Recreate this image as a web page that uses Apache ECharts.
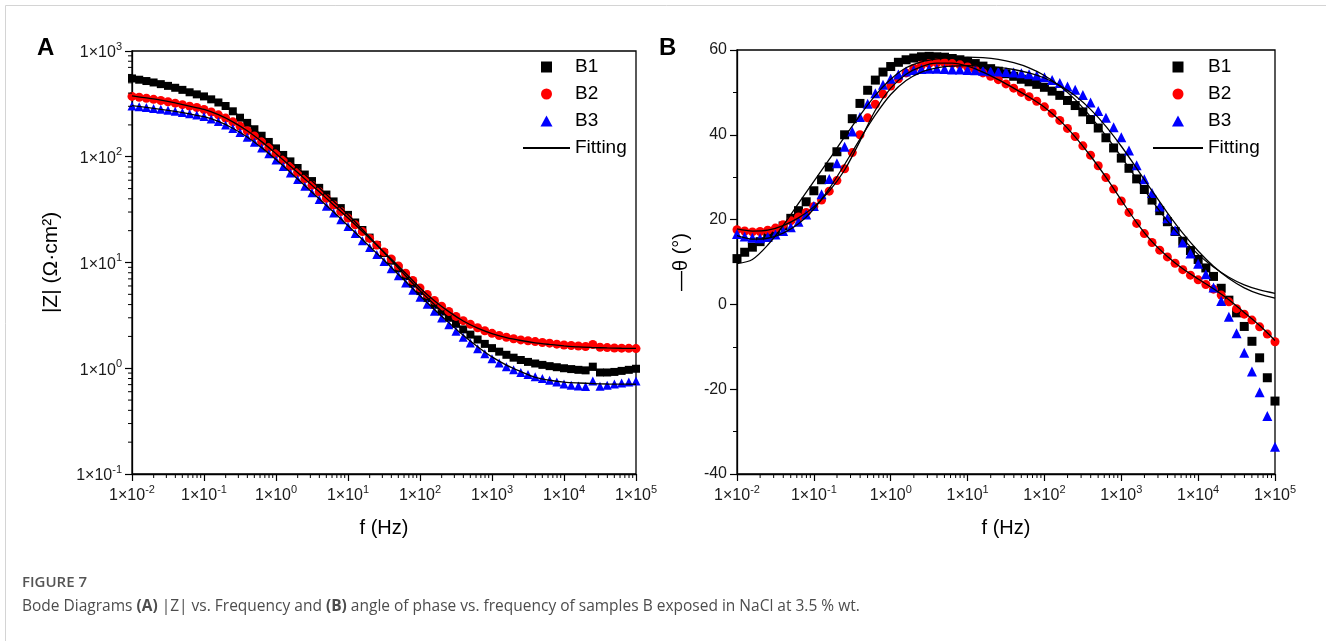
<!DOCTYPE html>
<html><head><meta charset="utf-8">
<script src="https://cdn.jsdelivr.net/npm/echarts@6/dist/echarts.min.js"></script>
<style>html,body{margin:0;padding:0;background:#fff}#c{width:1326px;height:641px}</style>
</head><body><div id="c"></div>
<script>
// ---------- data ----------
const freq = [
  0.01,0.01259,0.01585,0.01995,0.02512,0.03162,0.03981,0.05012,0.0631,0.07943,
  0.1,0.1259,0.1585,0.1995,0.2512,0.3162,0.3981,0.5012,0.631,0.7943,
  1,1.259,1.585,1.995,2.512,3.162,3.981,5.012,6.31,7.943,
  10,12.59,15.85,19.95,25.12,31.62,39.81,50.12,63.1,79.43,
  100,125.9,158.5,199.5,251.2,316.2,398.1,501.2,631,794.3,
  1000,1259,1585,1995,2512,3162,3981,5012,6310,7943,
  10000,12590,15850,19950,25120,31620,39810,50120,63100,79430,
  100000];
const fitFreq = [
  0.01,0.01585,0.02512,0.03981,0.0631,0.1,0.1585,0.2512,0.3981,0.631,
  1,1.585,2.512,3.981,6.31,10,15.85,25.12,39.81,63.1,
  100,158.5,251.2,398.1,631,1000,1585,2512,3981,6310,
  10000,15850,25120,39810,63100,100000];

// |Z| (ohm cm2)
const zB1 = [550,535,520,504,486,468,449,429,407,389, 372,349,326,302,269,234,209,182,158,138,
  120,104,90.4,78.3,67.9,58.9,50.8,43.9,37.8,32.7, 28.2,23.9,20.3,17.2,14.6,12.3,10.4,8.79,7.45,6.31,
  5.37,4.61,3.98,3.44,3.0,2.63,2.33,2.08,1.87,1.70, 1.55,1.435,1.34,1.259,1.197,1.148,1.109,1.076,1.047,1.023,
  1.0,0.982,0.966,0.955,1.035,0.912,0.912,0.923,0.944,0.966, 0.989];
const zB2 = [372,365,357,349,340,331,321,311,301,292, 280,265,249,232,214,195,176,157,139,122,
  107,93.3,81.3,70.8,61.7,53.7,46.6,40.4,35.0,30.3, 26.3,22.7,19.6,16.9,14.6,12.6,10.8,9.27,7.91,6.75,
  5.75,4.99,4.37,3.86,3.44,3.09,2.82,2.6,2.415,2.265, 2.138,2.042,1.963,1.90,1.854,1.82,1.786,1.754,1.726,1.69,
  1.66,1.641,1.622,1.607,1.679,1.578,1.567,1.556,1.549,1.542, 1.535];
const zB3 = [302,297,292,286,281,275,269,262,255,248, 240,228,215,200,185,170,153,137,121,107,
  93.3,80.9,70.1,60.8,52.7,45.7,39.4,34.0,29.4,25.4, 21.9,18.8,16.1,13.9,11.9,10.2,8.75,7.48,6.4,5.47,
  4.68,4.02,3.46,2.98,2.58,2.24,1.96,1.73,1.53,1.368, 1.23,1.122,1.035,0.966,0.912,0.871,0.832,0.8,0.771,0.741,
  0.708,0.692,0.679,0.671,0.759,0.676,0.692,0.708,0.724,0.741, 0.759];
const zFitB1 = [545,515,482,446,405,365,322,270,210,160,121,91,68,51,38,28.3,20.5,14.7,10.5,7.5,
  5.4,4.0,3.0,2.35,1.9,1.58,1.37,1.22,1.12,1.05,1.0,0.975,0.96,0.955,0.952,0.95];
const zFitB2 = [376,360,343,323,301,280,250,214,176,139,107,81.5,61.7,46.6,35.0,26.3,19.6,14.6,10.8,7.9,
  5.75,4.35,3.43,2.8,2.4,2.13,1.95,1.83,1.74,1.68,1.63,1.59,1.57,1.555,1.545,1.54];
const zFitB3 = [305,293,281,268,254,239,216,186,154,122,94,71,53.5,40,30,22.3,16.5,12.2,9.0,6.6,
  4.85,3.6,2.7,2.05,1.6,1.28,1.07,0.93,0.82,0.77,0.74,0.725,0.715,0.71,0.708,0.706];

// -theta (deg)
const thB1 = [10.8,12.3,13.5,14.8,16.0,17.2,18.5,20.3,22.1,24.2, 26.8,29.4,32.4,36.0,40.0,43.8,47.4,50.5,52.9,54.8,
  56.1,57.1,57.7,58.1,58.4,58.5,58.4,58.3,58.0,57.7, 57.3,56.8,56.2,55.6,55.0,54.4,53.8,53.1,52.5,51.9,
  51.2,50.3,49.3,48.1,46.9,45.4,43.6,41.6,39.3,36.9, 34.5,32.1,29.6,27.1,24.6,22.1,19.5,17.2,14.9,12.7,
  10.6,8.6,6.6,3.8,1.0,-2.0,-5.2,-8.7,-12.6,-17.3, -22.8];
const thB2 = [17.6,17.3,17.1,17.2,17.5,18.0,18.8,19.7,20.6,21.7, 23.1,24.6,26.7,29.2,32.0,35.8,40.0,44.0,47.2,49.6,
  51.5,53.2,54.6,55.7,56.4,56.8,57.0,57.0,56.8,56.5, 56.0,55.3,54.6,53.8,53.0,52.0,51.0,50.0,49.0,47.9,
  46.6,45.1,43.4,41.5,39.6,37.4,35.2,32.7,29.9,27.2, 24.4,21.7,19.1,16.7,14.6,12.8,11.2,9.7,8.2,6.9,
  5.8,4.7,3.6,2.2,0.6,-1.0,-2.3,-3.7,-5.3,-7.0, -8.8];
const thB3 = [16.6,16.0,15.7,15.6,15.9,16.5,17.3,18.2,19.5,21.2, 23.2,26.0,29.6,33.3,37.2,40.8,44.2,47.3,49.8,51.8,
  53.2,54.2,54.9,55.3,55.5,55.6,55.6,55.5,55.4,55.4, 55.3,55.2,55.1,55.0,54.9,54.8,54.7,54.5,54.3,54.0,
  53.6,52.9,52.2,51.4,50.6,49.4,47.6,45.6,44.0,41.8, 39.4,36.3,32.8,29.5,26.3,23.1,20.3,17.5,14.6,12.0,
  9.6,7.1,4.0,0.8,-2.9,-6.8,-11.4,-15.8,-20.7,-26.3, -33.6];
const thFitB1 = [9.6,10.6,14.0,18.6,23.8,29.0,34.2,39.5,44.6,49.3,53.1,55.8,57.2,57.9,58.2,58.3,58.2,57.8,57.0,55.8,
  54.0,51.5,48.3,44.3,39.8,34.8,29.6,24.5,19.7,15.5,11.8,8.8,6.4,4.6,3.4,2.6];
const thFitB2 = [17.8,17.3,17.5,18.6,20.4,23.0,26.7,31.7,38.5,45.8,51.0,54.3,56.1,56.9,56.9,56.2,54.8,53.0,51.0,48.9,
  46.5,43.4,39.5,35.0,30.0,24.6,19.3,14.8,11.3,8.4,6.0,3.7,1.1,-1.9,-5.0,-8.5];
const thFitB3 = [16.2,15.4,15.6,16.8,19.0,22.5,27.3,33.0,39.0,44.7,49.5,52.8,54.8,55.8,56.2,56.3,56.2,55.9,55.4,54.6,
  53.4,51.6,49.2,46.0,42.0,37.3,32.1,26.8,21.6,16.8,12.6,9.0,6.1,3.9,2.4,1.5];

const seriesNames = ['B1','B2','B3','Fitting'];
const minorMult = [2,3,4,5,6,7,8,9];
const xDecades = [0.01,0.1,1,10,100,1000,10000];
const yDecadesA = [0.1,1,10,100];

// ---------- helpers ----------
const pair = (xs, ys) => xs.map((x, i) => [x, ys[i]]);
const minorList = decs => { const out = []; decs.forEach(d => minorMult.forEach(m => out.push(+(m * d).toPrecision(3)))); return out; };
const FONT = '"Liberation Sans", Arial, sans-serif';
function sci(v) { const e = Math.round(Math.log10(v)); return '{m|1×10}{e|' + e + '}'; }
const sciRich = {
  m: { fontSize: 16, fontFamily: FONT, color: '#1a1a1a', lineHeight: 20, verticalAlign: 'bottom' },
  e: { fontSize: 11, fontFamily: FONT, color: '#1a1a1a', lineHeight: 12, verticalAlign: 'top' }
};
const axisLine = { show: true, onZero: false, lineStyle: { color: '#000', width: 1.3 } };
const axisTick = { show: true, inside: false, length: 7, lineStyle: { color: '#000', width: 1.2 } };

function minorTickSeries(xIndex, yIndex, list, dir, fixed) {
  return {
    type: 'custom', xAxisIndex: xIndex, yAxisIndex: yIndex, silent: true, clip: false, z: 5,
    data: list.map(v => dir === 'x' ? [v, fixed] : [fixed, v]),
    renderItem: function (params, api) {
      const p = api.coord([api.value(0), api.value(1)]);
      const shape = dir === 'x' ? { x1: p[0], y1: p[1], x2: p[0], y2: p[1] + 4 } : { x1: p[0] - 4, y1: p[1], x2: p[0], y2: p[1] };
      return { type: 'line', shape: shape, style: { stroke: '#000', lineWidth: 1 } };
    }
  };
}

const symA = { B1: 8, B2: 9, B3: 9 };
const symB = { B1: 9, B2: 9, B3: 10 };
function scatter(name, xi, yi, data, size) {
  const col = { B1: '#000000', B2: '#ff0000', B3: '#0000ff' }[name];
  const sym = { B1: 'rect', B2: 'circle', B3: 'triangle' }[name];
  return { type: 'scatter', name: name, xAxisIndex: xi, yAxisIndex: yi, data: data,
    symbol: sym, symbolSize: size, itemStyle: { color: col, opacity: 1 }, z: 2, animation: false };
}
function fit(xi, yi, data) {
  return { type: 'line', name: 'Fitting', xAxisIndex: xi, yAxisIndex: yi, data: data, smooth: 0.3,
    symbol: 'none', lineStyle: { color: '#000', width: 1.3 }, itemStyle: { color: '#000' }, z: 3, animation: false };
}

const legendIcons = {
  B1: 'path://M0,0H10V10H0Z',
  B2: 'path://M5,0A5,5,0,1,1,5,10A5,5,0,1,1,5,0Z',
  B3: 'path://M6,0L12,11L0,11Z',
  Fitting: 'path://M0,0H100V3.8H0Z'
};
function legend(left, w) {
  return {
    orient: 'vertical', left: left, top: 57, padding: 0, itemGap: 7, itemWidth: w, itemHeight: 11,
    symbolKeepAspect: true, selectedMode: false,
    data: seriesNames.map(n => ({ name: n, icon: legendIcons[n] })),
    textStyle: { fontSize: 19, fontFamily: FONT, color: '#000', lineHeight: 20 }
  };
}

const logX = (gi) => ({
  type: 'log', gridIndex: gi, logBase: 10, min: 0.01, max: 100000, interval: 1,
  axisLine: axisLine, axisTick: axisTick, splitLine: { show: false }, minorTick: { show: false },
  axisLabel: { formatter: sci, rich: sciRich, margin: 10, showMinLabel: true, showMaxLabel: true },
  name: 'f (Hz)', nameLocation: 'middle', nameGap: 44,
  nameTextStyle: { fontSize: 20, fontFamily: FONT, color: '#000' }
});

const option = {
  animation: false,
  backgroundColor: '#fff',
  grid: [
    { left: 132, top: 51, width: 504, height: 423, show: true, borderColor: '#000', borderWidth: 1.3, backgroundColor: 'transparent' },
    { left: 737, top: 50, width: 538, height: 424, show: true, borderColor: '#000', borderWidth: 1.3, backgroundColor: 'transparent' }
  ],
  legend: [legend(523, 47), legend(1153, 50)],
  xAxis: [logX(0), logX(1)],
  yAxis: [
    { type: 'log', gridIndex: 0, logBase: 10, min: 0.1, max: 1000, interval: 1,
      axisLine: axisLine, axisTick: axisTick, splitLine: { show: false },
      axisLabel: { formatter: sci, rich: sciRich, margin: 10 },
      name: '|Z| (Ω·cm²)', nameLocation: 'middle', nameGap: 70,
      nameTextStyle: { fontSize: 21, fontFamily: FONT, color: '#000' } },
    { type: 'value', gridIndex: 1, min: -40, max: 60, interval: 20,
      axisLine: axisLine, axisTick: axisTick, splitLine: { show: false },
      minorTick: { show: true, splitNumber: 2, length: 4, lineStyle: { color: '#000', width: 1 } },
      axisLabel: { fontSize: 16, fontFamily: FONT, color: '#1a1a1a', margin: 10 },
      name: '—θ (°)', nameLocation: 'middle', nameGap: 46,
      nameTextStyle: { fontSize: 20, fontFamily: FONT, color: '#000' } }
  ],
  series: [
    scatter('B1', 0, 0, pair(freq, zB1), symA.B1),
    scatter('B2', 0, 0, pair(freq, zB2), symA.B2),
    scatter('B3', 0, 0, pair(freq, zB3), symA.B3),
    fit(0, 0, pair(fitFreq, zFitB1)),
    fit(0, 0, pair(fitFreq, zFitB2)),
    fit(0, 0, pair(fitFreq, zFitB3)),
    scatter('B1', 1, 1, pair(freq, thB1), symB.B1),
    scatter('B2', 1, 1, pair(freq, thB2), symB.B2),
    scatter('B3', 1, 1, pair(freq, thB3), symB.B3),
    fit(1, 1, pair(fitFreq, thFitB1)),
    fit(1, 1, pair(fitFreq, thFitB2)),
    fit(1, 1, pair(fitFreq, thFitB3)),
    minorTickSeries(0, 0, minorList(xDecades), 'x', 0.1),
    minorTickSeries(0, 0, minorList(yDecadesA), 'y', 0.01),
    minorTickSeries(1, 1, minorList(xDecades), 'x', -40)
  ],
  graphic: [
    { type: 'rect', silent: true, shape: { x: 5.5, y: 5.5, width: 1400, height: 800 }, style: { fill: 'none', stroke: '#d4d4d4', lineWidth: 1 } },
    { type: 'text', left: 37, top: 36, style: { text: 'A', font: 'bold 24px ' + FONT, fill: '#000' } },
    { type: 'text', left: 659, top: 36, style: { text: 'B', font: 'bold 24px ' + FONT, fill: '#000' } },
    { type: 'text', left: 22, top: 575, style: { text: 'FIGURE 7', font: '600 15px "Open Sans", sans-serif', fill: '#555' } },
    { type: 'text', left: 22, top: 599, style: {
        text: 'Bode Diagrams {b|(A)} |Z| vs. Frequency and {b|(B)} angle of phase vs. frequency of samples B exposed in NaCl at 3.5 % wt.',
        font: '15.5px "Open Sans", sans-serif', fill: '#4d4d4d',
        rich: { b: { fontWeight: 'bold', fontSize: 15.5, fontFamily: '"Open Sans", sans-serif', fill: '#4d4d4d', color: '#4d4d4d' } } } }
  ]
};
const chart = echarts.init(document.getElementById('c'));
chart.setOption(option);
</script>
</body></html>
